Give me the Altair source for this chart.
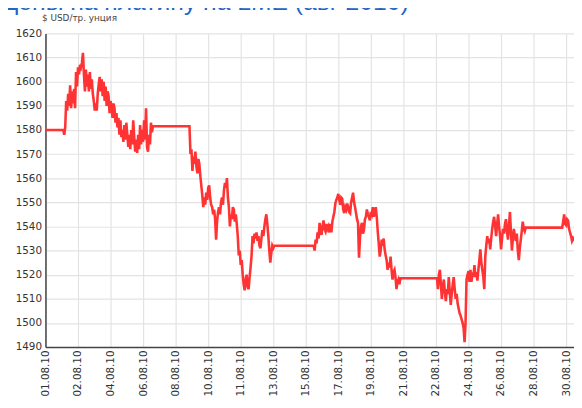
import json
import altair as alt
import pandas as pd

TITLE = "Цены на платину на LME (авг 2010)"
Y_TITLE = "$ USD/тр. унция"
Y_TICKS = list(range(1490, 1621, 10))
X_LABELS = ["01.08.10", "02.08.10", "04.08.10", "06.08.10", "08.08.10", "10.08.10",
            "11.08.10", "13.08.10", "15.08.10", "17.08.10", "19.08.10", "21.08.10",
            "22.08.10", "24.08.10", "26.08.10", "28.08.10", "30.08.10"]
X_START = "2010-08-01 02:30"
X_END = "2010-08-30 13:03"
TICK_STEP_HOURS = 43.5

# trading sessions: (first quote, last quote, quotes in between evenly spaced)
S0 = ("2010-08-01 02:30", "2010-08-01 02:30", [1580])
S1 = ("2010-08-02 02:15", "2010-08-07 02:10", [
    1580, 1578, 1581, 1592, 1588, 1595, 1590, 1598.5, 1589, 1596, 1591, 1597, 1589, 1604,
    1598, 1606, 1603, 1607, 1606, 1608, 1612, 1603, 1596, 1605, 1598, 1603, 1596, 1604,
    1597, 1601, 1595, 1592, 1588, 1591, 1588, 1595, 1599, 1602, 1596, 1601, 1594, 1600,
    1592, 1598, 1590, 1596, 1594, 1587, 1592, 1590, 1585, 1591, 1589, 1583, 1587, 1581,
    1585, 1578, 1584, 1577, 1580, 1575, 1582, 1576, 1583, 1578, 1573, 1578, 1572, 1580,
    1574, 1584, 1577, 1571, 1576, 1570.5, 1578, 1572, 1582, 1574, 1580, 1575, 1584, 1576,
    1589, 1573, 1571, 1578, 1574, 1583, 1579, 1581.5])
S2 = ("2010-08-09 03:00", "2010-08-13 20:20", [
    1581.5, 1570, 1572, 1563, 1569, 1566, 1571, 1565, 1562, 1568, 1566, 1561, 1557, 1553,
    1548, 1552, 1549, 1554, 1551, 1556, 1557, 1552, 1549, 1548, 1545, 1547, 1543, 1534.5,
    1542, 1546, 1548, 1545, 1550, 1552, 1549, 1555, 1558, 1556, 1560, 1552, 1548, 1540,
    1545, 1543, 1548, 1547, 1542, 1545, 1541, 1536, 1528, 1530, 1524, 1526, 1520, 1516,
    1513.5, 1518, 1520, 1515, 1514, 1519, 1523, 1528, 1536, 1533, 1537, 1535, 1537.5, 1534,
    1536, 1532, 1531, 1535, 1538.5, 1536, 1540, 1543, 1545, 1541, 1536, 1530, 1525, 1529,
    1532, 1531, 1532])
S3 = ("2010-08-16 01:00", "2010-08-20 21:00", [
    1532, 1530, 1534.5, 1533, 1537.5, 1535, 1541.5, 1538, 1536.5, 1540, 1542.5, 1539, 1538,
    1541, 1539, 1540, 1537.5, 1541, 1537.5, 1542, 1544, 1546, 1549.5, 1551, 1552, 1553.5,
    1551, 1549, 1552, 1551.5, 1547, 1545.5, 1548, 1547, 1549.5, 1548, 1546, 1545.5, 1550,
    1552, 1554, 1550, 1548, 1545.5, 1543, 1541.5, 1527, 1535, 1540, 1541.5, 1537, 1538.5,
    1543, 1544, 1547, 1545, 1544, 1542.5, 1546, 1545, 1548, 1544, 1546, 1548, 1544, 1538,
    1533, 1527.5, 1530, 1534.5, 1532, 1535, 1530.5, 1528, 1526, 1522, 1525, 1523, 1527.5,
    1522, 1518, 1521, 1522, 1519, 1514, 1517, 1518, 1516, 1518.5])
S4 = ("2010-08-22 21:50", "2010-08-27 20:30", [
    1518.5, 1514, 1520, 1522, 1516, 1510, 1515, 1518, 1513, 1509, 1514, 1512, 1519, 1513,
    1507.5, 1512, 1516, 1519, 1514, 1510, 1512, 1508, 1506, 1504, 1503, 1501.5, 1500, 1498,
    1492, 1500, 1518, 1520, 1521.5, 1517, 1522, 1517, 1521, 1519, 1524, 1519, 1521, 1517.5,
    1522, 1526, 1530.5, 1525, 1522, 1519, 1514, 1527.5, 1532, 1536, 1533, 1535, 1530.5,
    1535, 1539, 1542, 1544, 1540, 1536, 1541, 1545, 1540, 1536, 1530.5, 1535, 1539, 1537,
    1541, 1543, 1538, 1534.5, 1540, 1546, 1538, 1530, 1535, 1539, 1536, 1534, 1537, 1530,
    1526, 1531, 1534.5, 1538, 1542, 1539, 1538, 1539.5])
S5 = ("2010-08-29 21:15", "2010-08-30 13:00", [
    1539.5, 1542, 1545, 1541, 1540.5, 1543, 1542.5, 1539, 1537.5, 1536, 1534, 1535, 1534])
SESSIONS = [S0, S1, S2, S3, S4, S5]

frames = []
for start, end, vals in SESSIONS:
    times = pd.date_range(start, end, periods=len(vals))
    frames.append(pd.DataFrame({"time": times, "price": vals}))
df = pd.concat(frames, ignore_index=True)


def to_dt(ts):
    ts = pd.Timestamp(ts)
    return alt.DateTime(year=ts.year, month=ts.month, date=ts.day,
                        hours=ts.hour, minutes=ts.minute)


t0 = pd.Timestamp(X_START)
tick_times = [t0 + pd.Timedelta(hours=TICK_STEP_HOURS * i) for i in range(len(X_LABELS))]
tick_values = [to_dt(t) for t in tick_times]
step_ms = int(TICK_STEP_HOURS * 3600 * 1000)
label_expr = (f"{json.dumps(X_LABELS)}[round((datum.value - datetime({t0.year}, {t0.month - 1}, "
              f"{t0.day}, {t0.hour}, {t0.minute})) / {step_ms})]")

FONT = "DejaVu Sans"

line = alt.Chart(df).mark_line(color="#ff3333", strokeWidth=2.6, clip=True,
                               strokeJoin="miter").encode(
    x=alt.X("time:T",
            scale=alt.Scale(domain=[to_dt(X_START), to_dt(X_END)], nice=False),
            axis=alt.Axis(values=tick_values, labelExpr=label_expr, labelAngle=270,
                          labelAlign="right", labelBaseline="middle", labelPadding=3,
                          ticks=False, grid=True, gridColor="#e3e3e3", gridWidth=1.2,
                          domainColor="#444444", domainWidth=1.5, labelFont=FONT,
                          labelFontSize=10.5, labelColor="#333333", title=None,
                          labelOverlap=False, labelFlush=False)),
    y=alt.Y("price:Q",
            scale=alt.Scale(domain=[Y_TICKS[0], Y_TICKS[-1]], nice=False, zero=False),
            axis=alt.Axis(values=Y_TICKS, format="d", ticks=False, labelPadding=4,
                          grid=True, gridColor="#e3e3e3", gridWidth=1.2,
                          domainColor="#444444", domainWidth=1.5, labelFont=FONT,
                          labelFontSize=10.5, labelColor="#333333",
                          title=Y_TITLE, titleAngle=0, titleAlign="left",
                          titleBaseline="alphabetic", titleX=-4, titleY=-13,
                          titleFont=FONT, titleFontSize=9, titleFontWeight="normal",
                          titleColor="#444444", labelOverlap=False)),
)

title = alt.Chart(pd.DataFrame({"t": [TITLE]})).mark_text(
    align="left", baseline="alphabetic", font="Liberation Sans", fontSize=25,
    color="#2166c8").encode(text="t:N", x=alt.value(-46), y=alt.value(-24))

chart = alt.layer(line, title).properties(
    width=536, height=318,
    autosize=alt.AutoSizeParams(type="none"),
    padding={"left": 38, "top": 23, "right": 0, "bottom": 59},
    background="white",
).configure_view(strokeWidth=0)

chart.save("out.html", embed_options={"renderer": "svg", "actions": False})
